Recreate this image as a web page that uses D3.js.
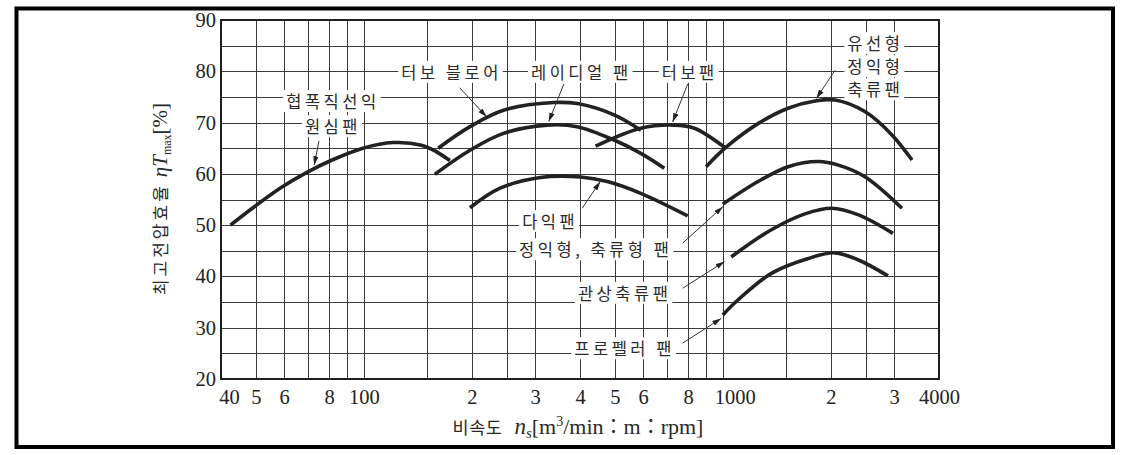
<!DOCTYPE html>
<html><head><meta charset="utf-8">
<script src="https://cdn.jsdelivr.net/npm/d3@7"></script>
<style>body{margin:0;background:#fff} svg{display:block}</style>
</head><body><svg id="c" width="1127" height="455"></svg>
<script>
// ---- data ----
const xGridValues = [50,60,70,80,90,100,150,200,250,300,400,500,600,700,800,900,1000,1500,2000,2500,3000];
const xTickValues = [40,50,60,80,100,200,300,400,500,600,800,1000,2000,3000,4000];
const xTickLabels = ["40","5","6","8","100","2","3","4","5","6","8","1000","2","3","4000"];
const yGridValues = [25,30,35,40,45,50,55,60,65,70,75,80,85];
const yTickValues = [20,30,40,50,60,70,80,90];

// curves: [specific speed ns, max total-pressure efficiency %]
const narrowRadialFan = [[42.5,50.0],[48.9,53.3],[58.7,57.3],[69.0,60.2],[81.0,62.6],[99.4,65.0],[120.6,66.1],[144.7,65.6],[159.4,64.3],[173.6,62.6]];
const turboBlower = [[161.1,65.0],[197.5,69.2],[244.9,72.4],[338,73.9],[392.7,73.7],[497.7,71.5],[590.8,68.5]];
const radialFan = [[157.6,59.9],[197.5,64.6],[244.9,67.9],[323.8,69.5],[392.7,69.2],[497.7,66.6],[590.8,64.0],[686.9,61.1]];
const turboFan = [[442,65.4],[590.8,68.9],[732.5,69.5],[833,68.9],[1015,65.1]];
const multiBladeFan = [[197.5,53.4],[239.6,57.2],[310,59.3],[401.3,59.4],[476.5,58.5],[590.8,56.2],[798,51.8]];
const streamlineVaneAxial = [[898,61.4],[1025,65.3],[1253,69.8],[1520,72.8],[1806,74.2],[2054,74.4],[2493,72.1],[2958,67.6],[3365,62.7]];
const vaneAxialFan = [[1000,54.1],[1253,58.5],[1520,61.4],[1845,62.4],[2098,61.7],[2493,59.4],[3154,53.3]];
const tubeAxialFan = [[1055,43.8],[1365,49.1],[1693,52.2],[2009,53.3],[2387,52.0],[2977,48.4]];
const propellerFan = [[1000,32.5],[1101,35.4],[1365,40.6],[1730,43.5],[2054,44.6],[2387,43.2],[2883,40.1]];
const allCurves = [narrowRadialFan,turboBlower,radialFan,turboFan,multiBladeFan,streamlineVaneAxial,vaneAxialFan,tubeAxialFan,propellerFan];

const labelTexts = ["협폭직선익","원심팬","터보 블로어","레이디얼 팬","터보팬","유선형","정익형","축류팬","다익팬","정익형, 축류형 팬","관상축류팬","프로펠러 팬"];
const labelNs = [82,82,175.5,403.3,808.6,2660,2660,2660,330.3,442.5,532.6,532.6];
const labelEta = [74.2,69.3,79.9,79.9,79.9,85.5,81.0,76.5,50.8,45.3,36.8,26.0];

const arrowFrom = [[75,66.4],[184.8,76.8],[360.5,77.5],[798,77.5],[2054,80.2],[405.7,53.3],[772.7,46.5],[772.7,37.7],[772.7,27.0]];
const arrowTo = [[72.7,61.7],[219.9,71.1],[327.3,70.2],[724.4,70.1],[1821,74.7],[455.5,58.5],[1000,53.6],[1011,42.9],[989,31.8]];

// ---- drawing ----
const svg = d3.select("#c");
const x = d3.scaleLog().domain([40,4000]).range([221,939]);
const y = d3.scaleLinear().domain([20,90]).range([379,20]);
const KR = "'Noto Sans CJK KR','Noto Sans CJK SC',sans-serif";
const SERIF = "'Liberation Serif','DejaVu Serif',serif";
const ink = "#1e1e1e";

svg.append("rect").attr("width",1127).attr("height",455).attr("fill","#fff");
// outer frame
svg.append("rect").attr("x",16.5).attr("y",8.5).attr("width",1096.5).attr("height",438.5)
  .attr("fill","none").attr("stroke","#000").attr("stroke-width",4);

const defs = svg.append("defs");
defs.append("marker").attr("id","ah").attr("viewBox","0 0 10 6").attr("refX",10).attr("refY",3)
  .attr("markerWidth",9).attr("markerHeight",5.5).attr("markerUnits","userSpaceOnUse").attr("orient","auto")
  .append("path").attr("d","M0,0L10,3L0,6Z").attr("fill","#222");

const [x0,x1] = x.range(), [yb,yt] = y.range();
const grid = svg.append("g").attr("stroke","#3a3a3a").attr("stroke-width",1);
grid.selectAll("line.v").data(xGridValues).join("line").attr("class","v")
  .attr("x1",d=>Math.round(x(d))+0.5).attr("x2",d=>Math.round(x(d))+0.5).attr("y1",yt).attr("y2",yb);
grid.selectAll("line.h").data(yGridValues).join("line").attr("class","h")
  .attr("x1",x0).attr("x2",x1).attr("y1",d=>Math.round(y(d))+0.5).attr("y2",d=>Math.round(y(d))+0.5);
// plot frame
svg.append("rect").attr("x",x0).attr("y",yt).attr("width",x1-x0).attr("height",yb-yt)
  .attr("fill","none").attr("stroke",ink).attr("stroke-width",2);

// axes labels via d3 axes (no domain/ticks lines)
const xAxis = d3.axisBottom(x).tickValues(xTickValues).tickFormat((d,i)=>xTickLabels[i]).tickSize(0).tickPadding(10);
const gx = svg.append("g").attr("transform",`translate(0,${yb})`).call(xAxis);
gx.select(".domain").remove();
const xOff = {40:8, 1000:12};
gx.selectAll("text").attr("font-family",SERIF).attr("font-size",20.5).attr("fill","#222")
  .attr("dx",d=>xOff[d]||0);

const yAxis = d3.axisLeft(y).tickValues(yTickValues).tickSize(0).tickPadding(5);
const gy = svg.append("g").attr("transform",`translate(${x0},0)`).call(yAxis);
gy.select(".domain").remove();
gy.selectAll("text").attr("font-family",SERIF).attr("font-size",20.5).attr("fill","#222");

// curves
const line = d3.line().x(d=>x(d[0])).y(d=>y(d[1])).curve(d3.curveCatmullRom.alpha(0.5));
svg.append("g").selectAll("path").data(allCurves).join("path")
  .attr("d",line).attr("fill","none").attr("stroke","#222").attr("stroke-width",3.6)
  .attr("stroke-linecap","butt").attr("stroke-linejoin","round");

// labels with white background
const lg = svg.append("g");
labelTexts.forEach((t,i)=>{
  const g = lg.append("g");
  const tx = g.append("text").attr("x",x(labelNs[i])).attr("y",y(labelEta[i]))
    .attr("text-anchor","middle").attr("dominant-baseline","central")
    .attr("font-family",KR).attr("font-size",16.5).attr("letter-spacing",3.5).attr("fill","#2a2a2a").text(t);
  const b = tx.node().getBBox();
  g.insert("rect","text").attr("x",b.x-3).attr("y",b.y+1).attr("width",b.width+4).attr("height",b.height-2).attr("fill","#fff");
});

// arrows
svg.append("g").selectAll("line").data(arrowFrom).join("line")
  .attr("x1",d=>x(d[0])).attr("y1",d=>y(d[1]))
  .attr("x2",(d,i)=>x(arrowTo[i][0])).attr("y2",(d,i)=>y(arrowTo[i][1]))
  .attr("stroke","#333").attr("stroke-width",1).attr("marker-end","url(#ah)");

// y axis title (rotated)
const yt_ = svg.append("text").attr("transform","translate(167,199) rotate(-90)")
  .attr("text-anchor","middle").attr("fill","#2a2a2a");
yt_.append("tspan").attr("font-family",KR).attr("font-size",17).attr("letter-spacing",3).text("최고전압효율");
yt_.append("tspan").attr("font-family",SERIF).attr("font-style","italic").attr("font-size",21).attr("dx",6).text("η");
yt_.append("tspan").attr("font-family",SERIF).attr("font-style","italic").attr("font-size",21).text("T");
yt_.append("tspan").attr("font-family",SERIF).attr("font-size",12).attr("dy",4).text("max");
yt_.append("tspan").attr("font-family",SERIF).attr("font-size",21).attr("dy",-4).text("[%]");

// x axis title
const xt_ = svg.append("text").attr("x",578).attr("y",434).attr("text-anchor","middle").attr("fill","#2a2a2a");
xt_.append("tspan").attr("font-family",KR).attr("font-size",17.5).attr("letter-spacing",0.5).text("비속도");
xt_.append("tspan").attr("font-family",SERIF).attr("font-style","italic").attr("font-size",23).attr("dx",12).text("n");
xt_.append("tspan").attr("font-family",SERIF).attr("font-style","italic").attr("font-size",15).attr("dy",4).text("s");
xt_.append("tspan").attr("font-family",SERIF).attr("font-size",22).attr("dy",-4).text("[m");
xt_.append("tspan").attr("font-family",SERIF).attr("font-size",14).attr("dy",-8).text("3");
xt_.append("tspan").attr("font-family",SERIF).attr("font-size",22).attr("dy",8).text("/min");
xt_.append("tspan").attr("font-family",KR).attr("font-size",20).text("：");
xt_.append("tspan").attr("font-family",SERIF).attr("font-size",22).text("m");
xt_.append("tspan").attr("font-family",KR).attr("font-size",20).text("：");
xt_.append("tspan").attr("font-family",SERIF).attr("font-size",22).text("rpm]");
</script></body></html>
